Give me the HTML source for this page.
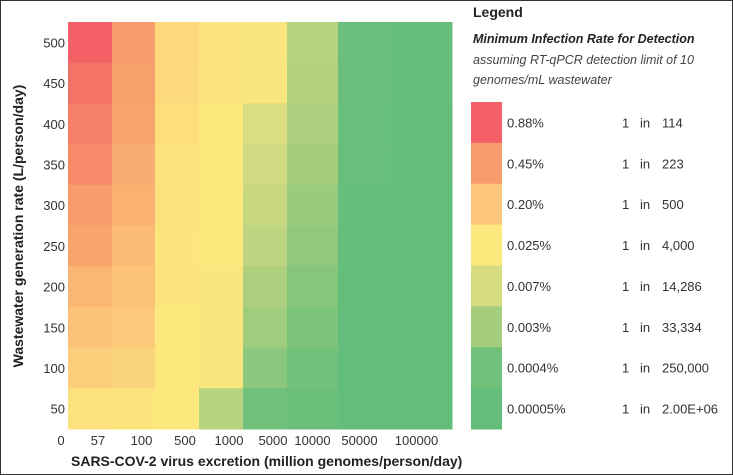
<!DOCTYPE html>
<html><head><meta charset="utf-8"><style>
html,body{margin:0;padding:0;background:#fff}
#wrap{position:relative;width:731px;height:473px;border:1px solid #333;overflow:hidden;font-family:"Liberation Sans",sans-serif;color:#222}
.t{position:absolute;white-space:nowrap}
</style></head><body>
<div id="wrap">
<svg id="hm" width="731" height="473" style="position:absolute;left:0;top:0"></svg>
<div class="t" style="left:472px;top:3px;font-size:14px;font-weight:bold">Legend</div>
<div class="t" style="left:472px;top:31px;font-size:12.5px;font-weight:bold;font-style:italic">Minimum Infection Rate for Detection</div>
<div class="t" style="left:472px;top:52px;font-size:12.5px;font-style:italic;color:#444">assuming RT-qPCR detection limit of 10</div>
<div class="t" style="left:472px;top:72px;font-size:12.5px;font-style:italic;color:#444">genomes/mL wastewater</div>
<div class="t" style="left:70px;top:452px;font-size:14px;font-weight:bold">SARS-COV-2 virus excretion (million genomes/person/day)</div>
<div class="t" style="left:17px;top:225px;font-size:14px;font-weight:bold;transform:translate(-50%,-50%) rotate(-90deg)">Wastewater generation rate (L/person/day)</div>
</div>
<script>
const xCategories=["57","100","500","1000","5000","10000","50000","100000"];
const yCategories=["500","450","400","350","300","250","200","150","100","50"];
// color level per cell (0=red ... 7=green), one array per column
const col57=[0,0.3,0.5,0.7,1.0,1.2,1.6,1.9,2.2,2.8];
const col100=[1.0,1.1,1.2,1.4,1.5,1.7,1.9,2.1,2.4,2.9];
const col500=[2.5,2.6,2.7,2.8,2.8,2.9,2.9,3.0,3.0,3.0];
const col1000=[2.9,2.9,3.0,3.0,3.0,3.0,3.1,3.1,3.1,4.6];
const col5000=[3.1,3.1,3.9,4.1,4.3,4.5,4.8,5.1,5.5,6.2];
const col10000=[4.6,4.7,4.8,5.0,5.2,5.4,5.6,5.8,6.0,6.4];
const col50000=[6.6,6.6,6.7,6.7,6.8,6.8,6.9,6.9,7,7];
const col100000=[6.8,6.8,6.9,6.9,7,7,7,7,7,7];
const legendPct=["0.88%","0.45%","0.20%","0.025%","0.007%","0.003%","0.0004%","0.00005%"];
const legendOneIn=["114","223","500","4,000","14,286","33,334","250,000","2.00E+06"];
const cols=[col57,col100,col500,col1000,col5000,col10000,col50000,col100000];
const stops=[[243,97,102],[247,156,106],[252,199,122],[253,232,125],[214,220,130],[164,205,125],[114,193,122],[99,189,123]];
function color(v){v=Math.max(0,Math.min(7,v));const i=Math.min(6,Math.floor(v)),f=v-i,a=stops[i],b=stops[i+1];
return `rgb(${a.map((c,k)=>Math.round(c+(b[k]-c)*f)).join(',')})`;}
const colEdges=[67,111,154,198,242,286,337,390,451];
const top0=21,bot0=428;
const rowH=(bot0-top0)/yCategories.length;
function yPos(i){return top0+i*rowH;}
const svg=document.getElementById('hm');const NS='http://www.w3.org/2000/svg';
function mk(t,a){const e=document.createElementNS(NS,t);for(const k in a)e.setAttribute(k,a[k]);svg.appendChild(e);return e;}
cols.forEach((arr,c)=>arr.forEach((v,r)=>{
 const e=mk('rect',{x:colEdges[c],y:yPos(r),width:colEdges[c+1]-colEdges[c]+0.5,height:rowH+0.5,fill:color(v)});
 
 
}));
yCategories.forEach((l,r)=>{
 const e=mk('text',{x:64,y:yPos(r)+rowH/2+5,'text-anchor':'end','font-size':13,fill:'#333','font-family':'Liberation Sans'});
 e.textContent=l;
 
 
});
{const e=mk('text',{x:60,y:444,'text-anchor':'middle','font-size':13,fill:'#333','font-family':'Liberation Sans'});e.textContent='0';
 
 }
xCategories.forEach((l,c)=>{
 const cx=(colEdges[c]+colEdges[c+1])/2+ (c<5?8:c==5?0:-5);
 const e=mk('text',{x:cx,y:444,'text-anchor':'middle','font-size':13,fill:'#333','font-family':'Liberation Sans'});
 e.textContent=l;
 
 
});
const lgTop=101,lgH=(428-101)/legendPct.length;
legendPct.forEach((p,i)=>{
 const y=lgTop+i*lgH;
 const r=mk('rect',{x:470,y:y,width:31,height:lgH+0.5,fill:color(i)});
 
 
 const ty=y+lgH/2+5;
 const a=mk('text',{x:506,y:ty,'font-size':13,fill:'#333','font-family':'Liberation Sans'});a.textContent=p;
 
 
 const b=mk('text',{x:621,y:ty,'font-size':13,fill:'#333','font-family':'Liberation Sans'});b.textContent='1';
 
 
 const c=mk('text',{x:639,y:ty,'font-size':13,fill:'#333','font-family':'Liberation Sans'});c.textContent='in';
 
 
 const d=mk('text',{x:661,y:ty,'font-size':13,fill:'#333','font-family':'Liberation Sans'});d.textContent=legendOneIn[i];
 
 
});
</script>
</body></html>
